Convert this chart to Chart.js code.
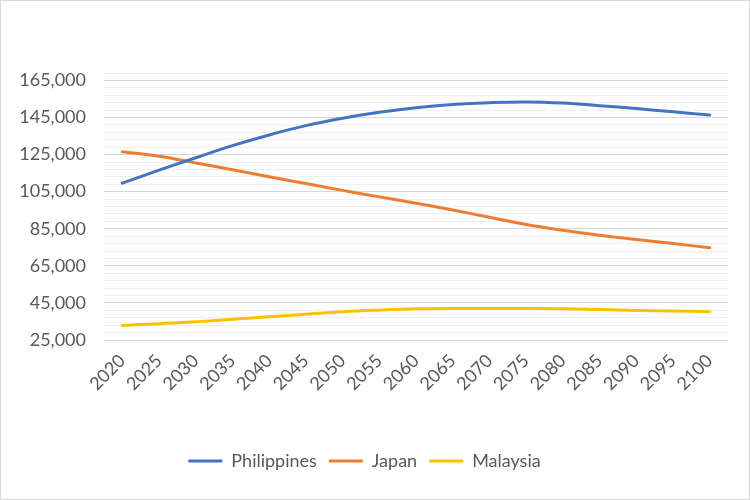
<!DOCTYPE html>
<html>
<head>
<meta charset="utf-8">
<script src="https://cdn.jsdelivr.net/npm/chart.js@4"></script>
<style>
  html, body { margin: 0; padding: 0; background: #fff; }
  #wrap { width: 750px; height: 500px; box-sizing: border-box; border: 1px solid #d9d9d9; }
</style>
</head>
<body>
<div id="wrap"><canvas id="chart" width="748" height="498"></canvas></div>
<script>
// population, thousands
var years = ["2020", "2025", "2030", "2035", "2040", "2045", "2050", "2055", "2060",
             "2065", "2070", "2075", "2080", "2085", "2090", "2095", "2100"];
var philippines = [109600, 116600, 123300, 129800, 135600, 140600, 144600, 147800, 150300,
                   152000, 153000, 153400, 152800, 151400, 149800, 148100, 146300];
var japan = [126500, 124100, 120500, 116800, 113000, 109400, 105700, 102200, 98800,
             95100, 91200, 87300, 84200, 81500, 79200, 77000, 74800];
var malaysia = [32800, 33800, 34800, 36200, 37600, 38900, 40200, 41100, 41800,
                42000, 42000, 42000, 41900, 41400, 40900, 40700, 40300];
var yMajorTicks = [25000, 45000, 65000, 85000, 105000, 125000, 145000, 165000];
var yMin = 25000, yMax = 169000, yMinorStep = 4000;

var FONT = "Lato, 'Noto Sans', sans-serif";
var TEXT = "#595959";

function isMajor(v) {
    return yMajorTicks.indexOf(v) !== -1;
}

new Chart(document.getElementById("chart"), {
    type: "line",
    data: {
        labels: years,
        datasets: [
            { label: "Philippines", data: philippines, borderColor: "#4472C4", backgroundColor: "#4472C4" },
            { label: "Japan", data: japan, borderColor: "#ED7D31", backgroundColor: "#ED7D31" },
            { label: "Malaysia", data: malaysia, borderColor: "#FFC000", backgroundColor: "#FFC000" }
        ]
    },
    options: {
        responsive: false,
        animation: false,
        elements: {
            line: { borderWidth: 3, tension: 0.4, borderCapStyle: "round" },
            point: { radius: 0 }
        },
        layout: { padding: { top: 72, right: 21, left: 0, bottom: 19 } },
        plugins: {
            tooltip: { enabled: false },
            legend: {
                position: "bottom",
                labels: {
                    color: TEXT,
                    font: { family: FONT, size: 18 },
                    boxWidth: 34,
                    boxHeight: 0,
                    padding: 12,
                    generateLabels: function(chart) {
                        return chart.data.datasets.map(function(ds, i) {
                            return {
                                text: ds.label,
                                fillStyle: ds.borderColor,
                                strokeStyle: ds.borderColor,
                                lineWidth: 3,
                                lineCap: "round",
                                fontColor: TEXT,
                                datasetIndex: i
                            };
                        });
                    }
                }
            }
        },
        scales: {
            x: {
                offset: true,
                grid: { display: false },
                border: { display: false },
                ticks: {
                    color: TEXT,
                    font: { family: FONT, size: 18 },
                    minRotation: 45,
                    maxRotation: 45,
                    autoSkip: false,
                    padding: 2
                },
                afterFit: function(scale) { scale.height = 100; }
            },
            y: {
                min: yMin,
                max: yMax,
                border: { display: false },
                grid: {
                    drawTicks: false,
                    color: function(ctx) {
                        return isMajor(ctx.tick.value) ? "#d9d9d9" : "#f0f0f0";
                    }
                },
                afterBuildTicks: function(scale) {
                    var t = [];
                    for (var v = yMin; v <= yMax; v += yMinorStep) t.push({ value: v });
                    scale.ticks = t;
                },
                ticks: {
                    autoSkip: false,
                    color: TEXT,
                    font: { family: FONT, size: 18 },
                    padding: 18,
                    callback: function(v) {
                        return isMajor(v) ? v.toLocaleString("en-US") : "";
                    }
                },
                afterFit: function(scale) { scale.width = 103; }
            }
        }
    }
});
</script>
</body>
</html>
